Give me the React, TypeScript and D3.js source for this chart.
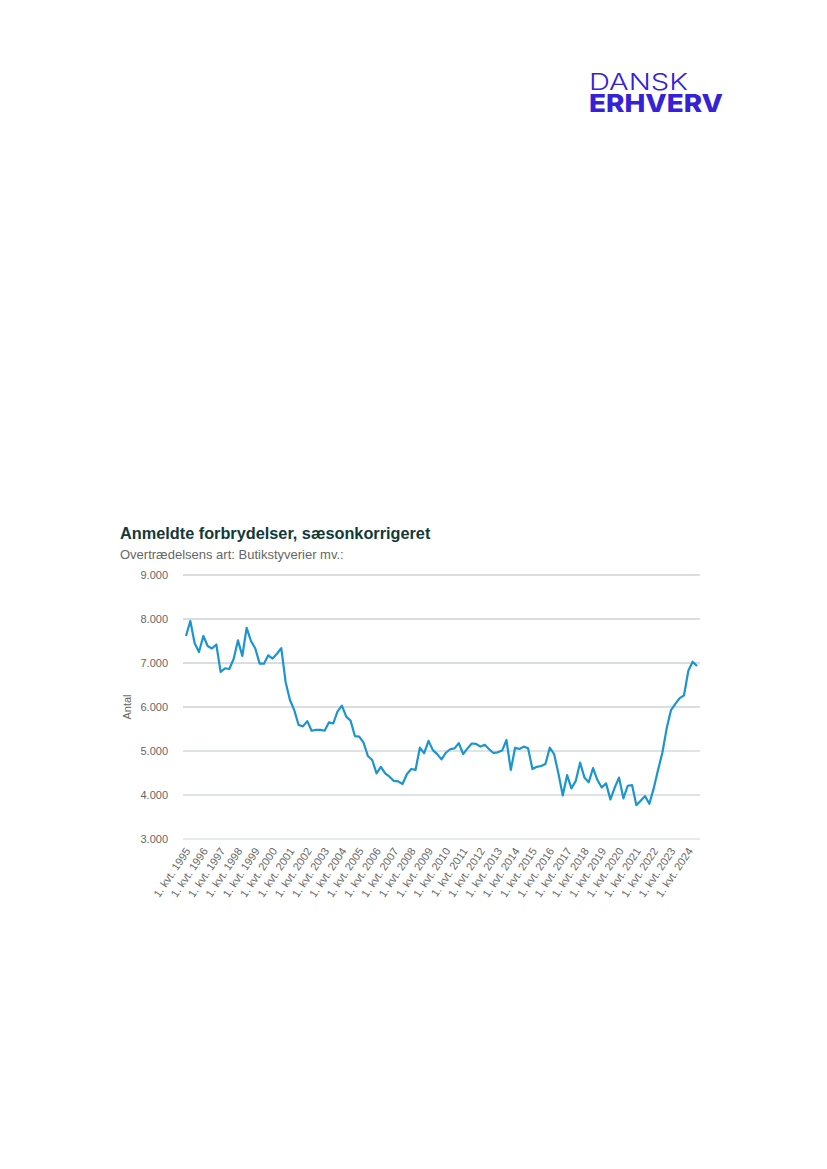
import { useEffect, useRef } from "react";
import * as d3 from "d3";

// Butikstyverier mv., sæsonkorrigeret, 1. kvt. 1995 - 3. kvt. 2024
const years = d3.range(1995, 2025);
const values = [
  7614, 7955, 7450, 7250,
  7614, 7386, 7330, 7420,
  6800, 6880, 6864, 7090,
  7515, 7160, 7800, 7500,
  7330, 6985, 6985, 7175,
  7100, 7210, 7340, 6570,
  6160, 5930, 5590, 5560,
  5680, 5460, 5480, 5480,
  5460, 5650, 5625, 5900,
  6030, 5780, 5690, 5340,
  5325, 5190, 4886, 4795,
  4490, 4640, 4490, 4415,
  4320, 4310, 4250, 4470,
  4590, 4570, 5075, 4950,
  5230, 5020, 4930, 4810,
  4960, 5040, 5060, 5180,
  4930, 5060, 5170, 5160,
  5100, 5140, 5040, 4955,
  4970, 5010, 5250, 4570,
  5075, 5045, 5100, 5060,
  4590, 4640, 4660, 4705,
  5075, 4930, 4490, 3990,
  4450, 4150, 4320, 4735,
  4400, 4290, 4610, 4340,
  4170, 4265, 3900, 4170,
  4395, 3925, 4210, 4225,
  3770, 3870, 3975, 3800,
  4150, 4570, 4960, 5515,
  5930, 6070, 6200, 6265,
  6825, 7030, 6930,
];
const yTicks = [3000, 4000, 5000, 6000, 7000, 8000, 9000];
const xLabels = years.map((y) => `1. kvt. ${y}`);

export default function App() {
  const ref = useRef<SVGSVGElement | null>(null);

  useEffect(() => {
    document.body.style.margin = "0";
    if (!ref.current) return;
    const svg = d3.select(ref.current);
    svg.selectAll("*").remove();

    const x = d3.scaleLinear().domain([0, values.length - 1]).range([186, 697]);
    const y = d3.scaleLinear().domain([3000, 9000]).range([839, 575]);
    const fmt = (v: number) => d3.format(",")(v).replace(/,/g, ".");

    // logo, two lines in one text element
    const logo = svg.append("text")
      .attr("font-family", "Inter, 'DejaVu Sans', sans-serif")
      .attr("fill", "#3522d8");
    logo.append("tspan")
      .attr("x", 589).attr("y", 89.5)
      .attr("font-size", 22.5).attr("font-weight", 300)
      .attr("textLength", 99).attr("lengthAdjust", "spacingAndGlyphs")
      .text("DANSK");
    logo.append("tspan")
      .attr("x", 589).attr("y", 112.3)
      .attr("font-size", 25).attr("font-weight", 800)
      .attr("textLength", 134).attr("lengthAdjust", "spacingAndGlyphs")
      .text("ERHVERV");

    // title
    svg.append("text")
      .attr("x", 120).attr("y", 538.5)
      .attr("font-family", "'Liberation Sans', Arial, sans-serif")
      .attr("font-size", 16.3).attr("font-weight", "bold")
      .attr("fill", "#12393a")
      .text("Anmeldte forbrydelser, sæsonkorrigeret");
    svg.append("text")
      .attr("x", 120).attr("y", 559)
      .attr("font-family", "'Liberation Sans', Arial, sans-serif")
      .attr("font-size", 13)
      .attr("fill", "#666")
      .text("Overtrædelsens art: Butikstyverier mv.:");

    // grid
    const grid = svg.append("g");
    grid.selectAll("line")
      .data(yTicks)
      .join("line")
      .attr("x1", 183).attr("x2", 700)
      .attr("y1", (d) => y(d)).attr("y2", (d) => y(d))
      .attr("stroke", (d) => (d >= 6000 ? "#b4bcc2" : d === 3000 ? "#dde5ea" : "#d2dadf"))
      .attr("stroke-width", (d) => (d >= 6000 ? 1 : 1.6));

    svg.append("g")
      .selectAll("text")
      .data(yTicks)
      .join("text")
      .attr("x", 168).attr("y", (d) => y(d))
      .attr("dy", "0.35em")
      .attr("text-anchor", "end")
      .attr("font-family", "'Liberation Sans', Arial, sans-serif")
      .attr("font-size", 11)
      .attr("fill", "#666")
      .text((d) => fmt(d));

    svg.append("text")
      .attr("transform", `translate(131, ${y(6000)}) rotate(-90)`)
      .attr("text-anchor", "middle")
      .attr("font-family", "'Liberation Sans', Arial, sans-serif")
      .attr("font-size", 11)
      .attr("fill", "#666")
      .text("Antal");

    // x labels (one per 1. kvartal)
    svg.append("g")
      .selectAll("text")
      .data(xLabels)
      .join("text")
      .attr("transform", (_, i) => `translate(${x(i * 4) + 5}, 851) rotate(-56)`)
      .attr("text-anchor", "end")
      .attr("font-family", "'Liberation Sans', Arial, sans-serif")
      .attr("font-size", 11)
      .attr("fill", "#666")
      .text((d) => d);

    // line
    const line = d3.line<number>()
      .x((_, i) => x(i))
      .y((d) => y(d));
    svg.append("path")
      .datum(values)
      .attr("d", line)
      .attr("fill", "none")
      .attr("stroke", "#1b95cf")
      .attr("stroke-width", 2.2)
      .attr("stroke-linejoin", "round");
  }, []);

  return <svg ref={ref} width={827} height={1169} style={{ display: "block" }} />;
}
